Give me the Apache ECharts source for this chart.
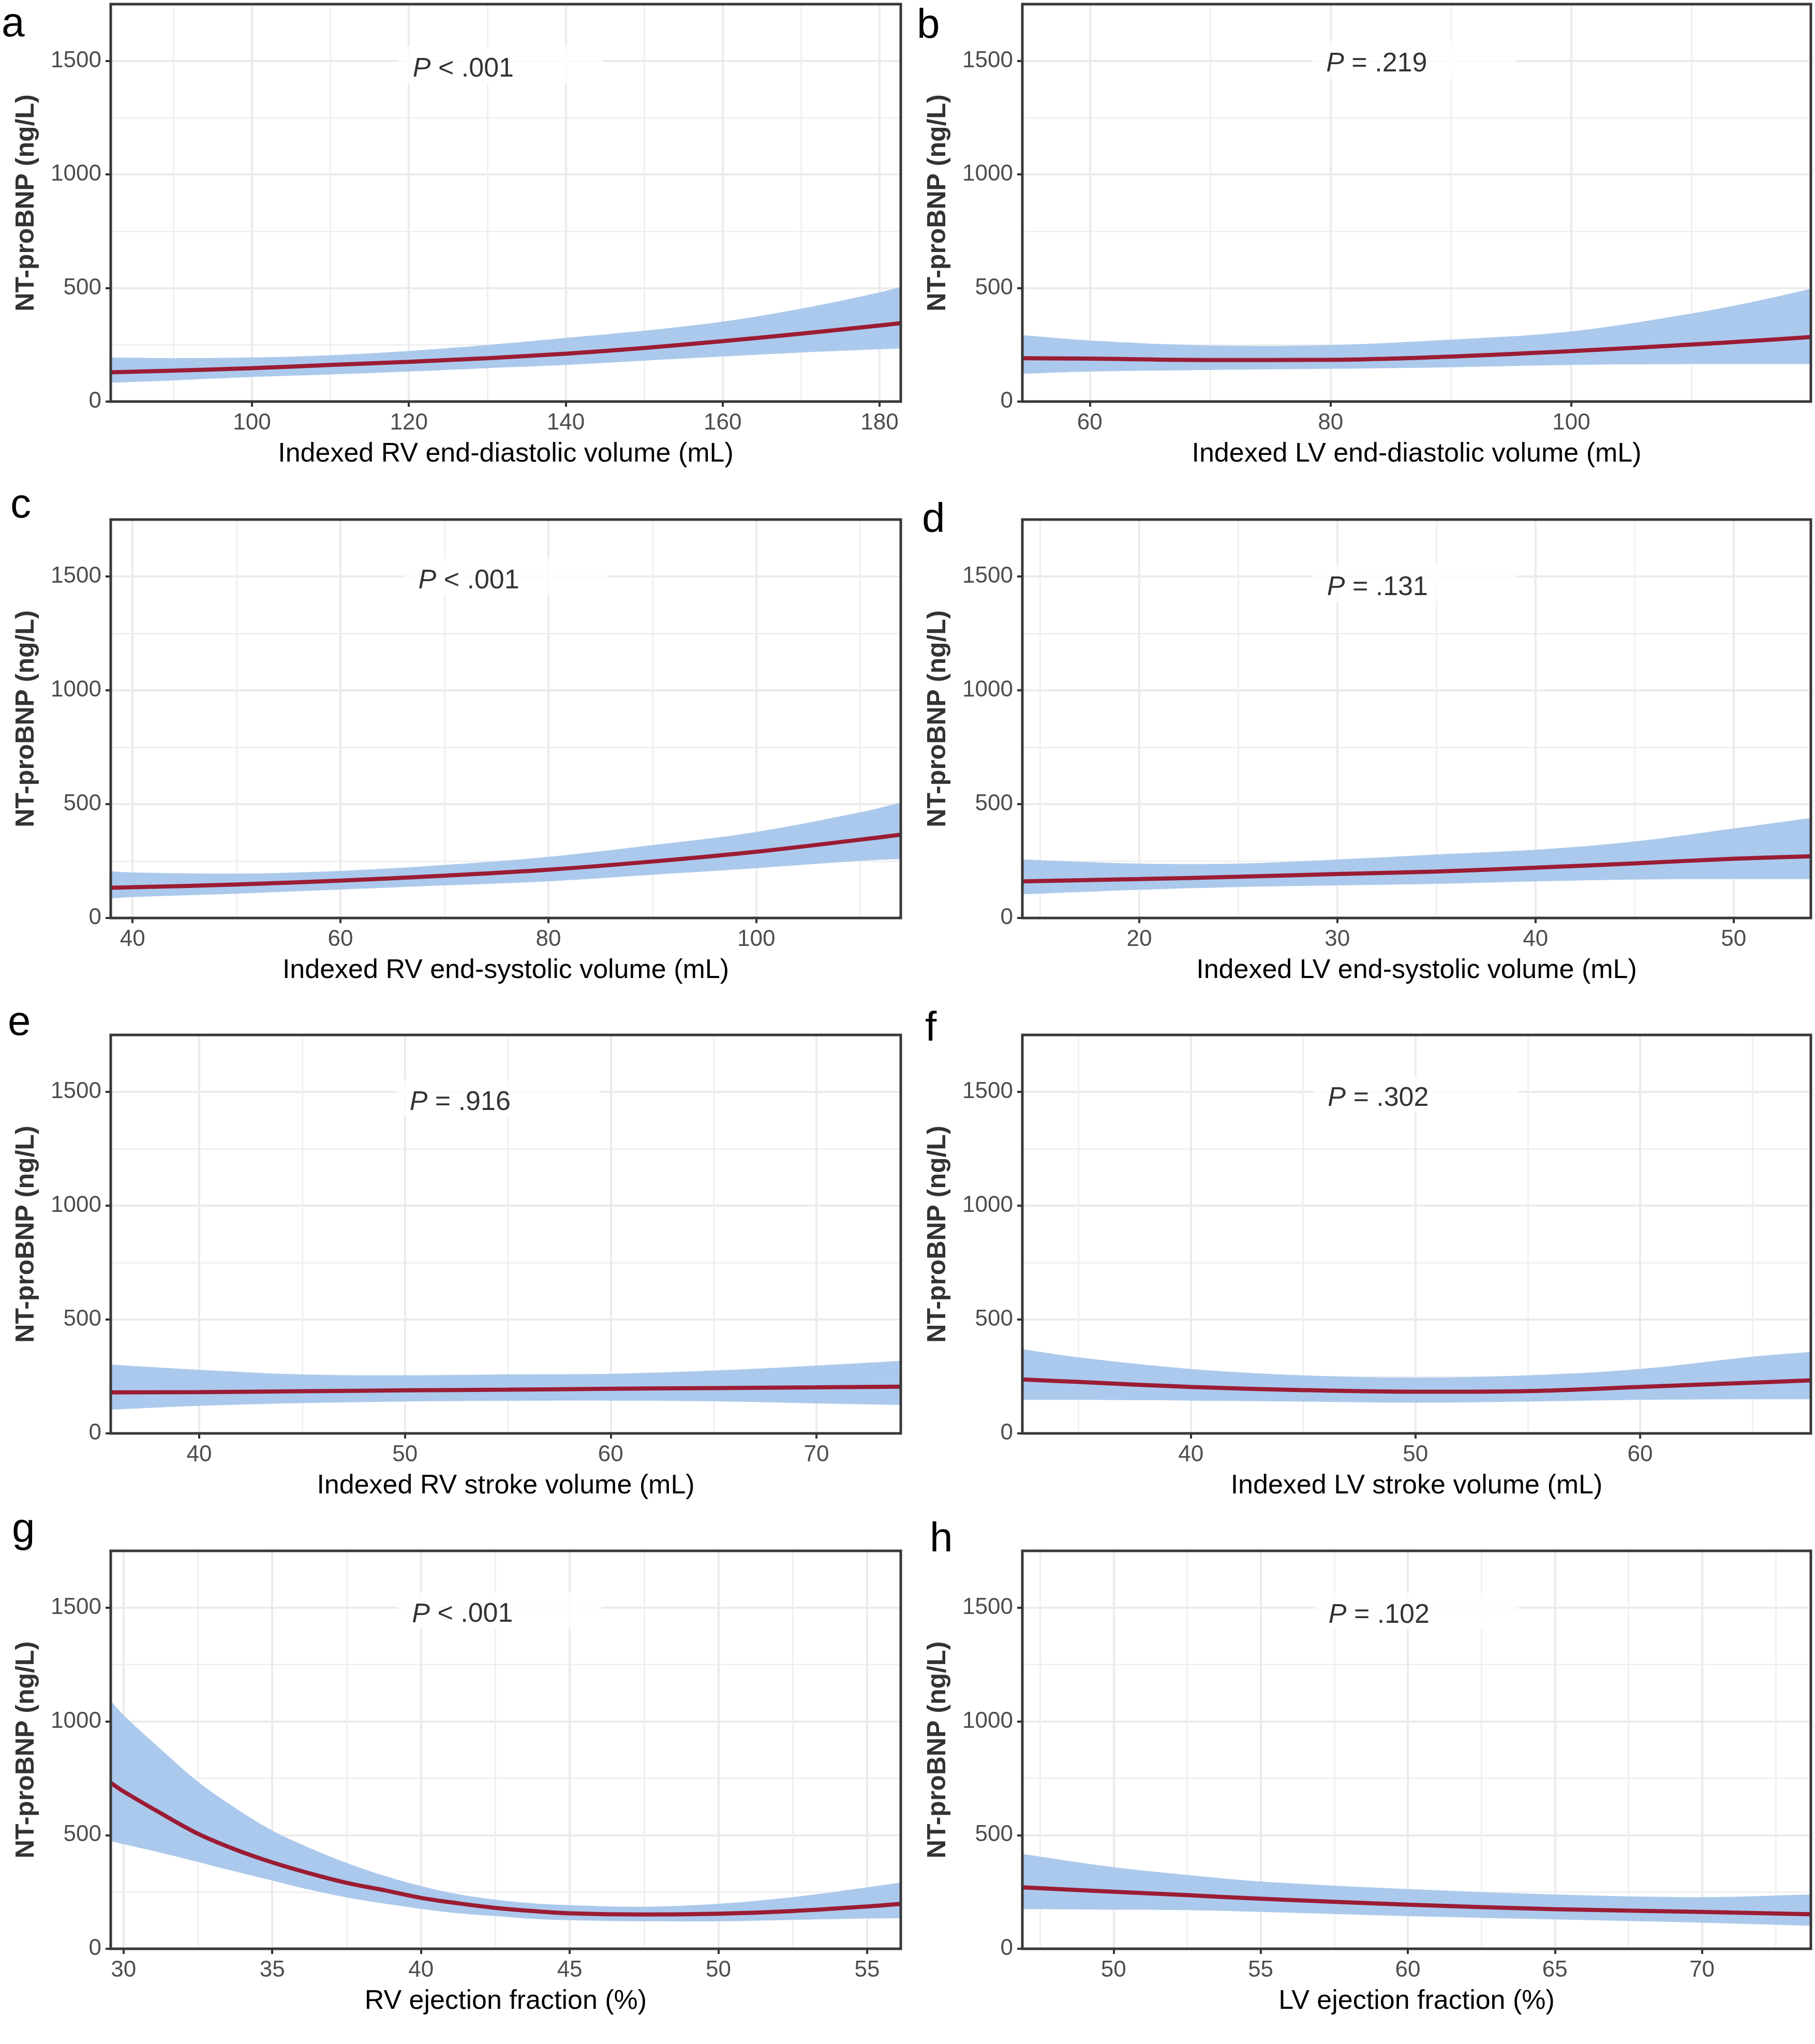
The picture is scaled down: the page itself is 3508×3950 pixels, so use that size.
<!DOCTYPE html>
<html><head><meta charset="utf-8">
<script src="https://cdn.jsdelivr.net/npm/echarts@6/dist/echarts.min.js"></script>
<style>html,body{margin:0;padding:0;background:#fff}#c{width:3508px;height:3950px}</style>
</head><body><div id="c"></div>
<script>
// ---------------- data ----------------
const yTicks = [0, 500, 1000, 1500];
const yMinorTicks = [250, 750, 1250];
const yMax = 1750;
const yTitle = 'NT-proBNP (ng/L)';

// a: RV EDV
const aX     = [82, 90, 100, 110, 120, 130, 140, 150, 160, 170, 180, 182.7];
const aFit   = [129, 136, 147, 161, 175, 191, 211, 236, 266, 299, 335, 345];
const aUpper = [194, 191, 194, 204, 223, 249, 280, 312, 352, 409, 481, 506];
const aLower = [83, 93, 108, 119, 132, 147, 161, 180, 198, 216, 230, 234];
const aTicks = [100, 120, 140, 160, 180];
const aMinor = [90, 110, 130, 150, 170];

// b: LV EDV
const bX     = [54.4, 60, 70, 80, 90, 100, 110, 115, 119.9];
const bFit   = [191, 189, 183, 184, 198, 222, 251, 267, 284];
const bUpper = [292, 269, 247, 249, 273, 309, 388, 438, 496];
const bLower = [122, 132, 139, 144, 151, 161, 165, 165, 165];
const bTicks = [60, 80, 100];
const bMinor = [70, 90, 110];

// c: RV ESV
const cX     = [37.9, 40, 50, 60, 70, 80, 90, 100, 110, 113.9];
const cFit   = [133, 135, 147, 164, 186, 212, 248, 291, 344, 366];
const cUpper = [205, 200, 195, 207, 233, 269, 320, 378, 464, 507];
const cLower = [86, 92, 107, 125, 143, 161, 190, 219, 251, 259];
const cTicks = [40, 60, 80, 100];
const cMinor = [50, 70, 90, 110];

// d: LV ESV
const dX     = [14.1, 20, 25, 30, 35, 40, 45, 50, 53.9];
const dFit   = [161, 171, 181, 193, 204, 221, 240, 260, 271];
const dUpper = [257, 239, 239, 257, 279, 300, 336, 393, 439];
const dLower = [104, 124, 136, 143, 150, 161, 169, 171, 171];
const dTicks = [20, 30, 40, 50];
const dMinor = [15, 25, 35, 45];

// e: RV SV
const eX     = [35.7, 40, 45, 50, 55, 60, 65, 70, 74.1];
const eFit   = [180, 181, 185, 189, 192, 196, 199, 202, 205];
const eUpper = [302, 279, 259, 255, 259, 262, 276, 298, 319];
const eLower = [104, 121, 133, 140, 143, 144, 141, 132, 125];
const eTicks = [40, 50, 60, 70];
const eMinor = [45, 55, 65];

// f: LV SV
const fX     = [32.5, 35, 40, 45, 50, 55, 60, 65, 67.6];
const fFit   = [237, 226, 204, 190, 183, 186, 204, 223, 233];
const fUpper = [370, 334, 283, 255, 245, 255, 283, 337, 358];
const fLower = [147, 147, 144, 140, 135, 140, 147, 150, 150];
const fTicks = [40, 50, 60];
const fMinor = [35, 45, 55, 65];

// g: RV EF
const gX     = [29.57, 30, 31.2, 32.5, 33.75, 35, 36.25, 37.5, 38.75, 40, 41.25, 42.5, 43.75, 45, 47.5, 50, 52.5, 55, 56.13];
const gFit   = [730, 692, 600, 506, 437, 380, 332, 290, 258, 224, 200, 180, 166, 156, 151, 154, 166, 186, 198];
const gUpper = [1090, 1028, 884, 735, 620, 520, 444, 378, 322, 276, 240, 216, 200, 192, 185, 198, 227, 270, 292];
const gLower = [474, 460, 424, 382, 340, 300, 260, 226, 199, 176, 156, 144, 132, 126, 121, 121, 127, 133, 134];
const gTicks = [30, 35, 40, 45, 50, 55];
const gMinor = [32.5, 37.5, 42.5, 47.5, 52.5];

// h: LV EF
const hX     = [46.9, 50, 52.5, 55, 60, 65, 70, 73.7];
const hFit   = [270, 251, 236, 220, 194, 174, 162, 152];
const hUpper = [417, 359, 325, 296, 263, 239, 227, 239];
const hLower = [174, 172, 170, 162, 144, 129, 115, 101];
const hTicks = [50, 55, 60, 65, 70];
const hMinor = [47.5, 52.5, 57.5, 62.5, 67.5, 72.5];

const letters = ['a', 'b', 'c', 'd', 'e', 'f', 'g', 'h'];
const xTitles = [
  'Indexed RV end-diastolic volume (mL)', 'Indexed LV end-diastolic volume (mL)',
  'Indexed RV end-systolic volume (mL)', 'Indexed LV end-systolic volume (mL)',
  'Indexed RV stroke volume (mL)', 'Indexed LV stroke volume (mL)',
  'RV ejection fraction (%)', 'LV ejection fraction (%)'
];
const pTexts = [' < .001', ' = .219', ' < .001', ' = .131', ' = .916', ' = .302', ' < .001', ' = .102'];

// ---------------- layout (pixels) ----------------
const colLeft = [214, 1976];
const colWidth = [1527, 1524];
const rowTop = [8, 1004, 2000, 2997];
const rowHeight = [768, 770, 770, 769];
const letterPos = [[3, 8], [1772, 11], [20, 938], [1782, 966], [15, 1938], [1788, 1949], [23, 2917], [1797, 2936]];
const pTextFrac = [0.382, 0.385, 0.389, 0.386, 0.378, 0.387, 0.381, 0.388];
const pTextY = [1463, 1486, 1481, 1451, 1454, 1472, 1470, 1467];

const FONT = "'Liberation Sans', Arial, Helvetica, sans-serif";
const BAND = '#abc9ec';
const LINE = '#9b1c34';
const S = 0.35;

const panels = [
  [aX, aFit, aUpper, aLower, aTicks, aMinor],
  [bX, bFit, bUpper, bLower, bTicks, bMinor],
  [cX, cFit, cUpper, cLower, cTicks, cMinor],
  [dX, dFit, dUpper, dLower, dTicks, dMinor],
  [eX, eFit, eUpper, eLower, eTicks, eMinor],
  [fX, fFit, fUpper, fLower, fTicks, fMinor],
  [gX, gFit, gUpper, gLower, gTicks, gMinor],
  [hX, hFit, hUpper, hLower, hTicks, hMinor]
];

function ctrl(p, i, dir) {
  const prev = p[Math.max(i - 1, 0)], cur = p[i], next = p[Math.min(i + 1, p.length - 1)];
  const vx = next[0] - prev[0], vy = next[1] - prev[1];
  const d0 = Math.hypot(cur[0] - prev[0], cur[1] - prev[1]);
  const d1 = Math.hypot(next[0] - cur[0], next[1] - cur[1]);
  const sum = (d0 + d1) || 1;
  if (dir > 0) return [cur[0] + vx * S * d1 / sum, cur[1] + vy * S * d1 / sum];
  return [cur[0] - vx * S * d0 / sum, cur[1] - vy * S * d0 / sum];
}
function smoothSeg(p) {
  let d = '';
  for (let i = 0; i < p.length - 1; i++) {
    const c1 = ctrl(p, i, 1), c2 = ctrl(p, i + 1, -1);
    d += ' C' + c1[0] + ' ' + c1[1] + ' ' + c2[0] + ' ' + c2[1] + ' ' + p[i + 1][0] + ' ' + p[i + 1][1];
  }
  return d;
}
function bandRenderer(xs, lo, hi) {
  return function (params, api) {
    if (params.dataIndex !== 0) return null;
    const up = xs.map((x, i) => api.coord([x, hi[i]]));
    const dn = xs.map((x, i) => api.coord([x, lo[i]])).reverse();
    const d = 'M' + up[0][0] + ' ' + up[0][1] + smoothSeg(up) +
      ' L' + dn[0][0] + ' ' + dn[0][1] + smoothSeg(dn) + ' Z';
    return { type: 'path', shape: { pathData: d }, style: { fill: BAND, stroke: null } };
  };
}

const grid = [], xAxis = [], yAxis = [], series = [], graphic = [];
panels.forEach((pn, i) => {
  const [xs, fit, hi, lo, ticks, minor] = pn;
  const col = i % 2, row = Math.floor(i / 2);
  const xmin = xs[0], xmax = xs[xs.length - 1];
  grid.push({
    left: colLeft[col], top: rowTop[row], width: colWidth[col], height: rowHeight[row],
    show: true, borderColor: '#383838', borderWidth: 5, backgroundColor: 'transparent',
    z: 10, containLabel: false, outerBoundsMode: 'none'
  });
  xAxis.push({
    gridIndex: i, type: 'value', min: xmin, max: xmax, position: 'bottom',
    name: xTitles[i], nameLocation: 'middle', nameGap: 76, nameMoveOverlap: false,
    nameTextStyle: { fontSize: 52, color: '#000', fontFamily: FONT },
    axisLine: { show: false },
    axisTick: { show: true, length: 10, customValues: ticks, lineStyle: { color: '#333', width: 4 } },
    axisLabel: { customValues: ticks, margin: 20, fontSize: 44, color: '#4d4d4d', fontFamily: FONT,
      hideOverlap: false, formatter: v => String(v) },
    splitLine: { show: true, lineStyle: { color: '#ebebeb', width: 4 } }
  });
  xAxis.push({
    gridIndex: i, type: 'value', min: xmin, max: xmax, position: 'top',
    axisLine: { show: false },
    axisTick: { show: false, customValues: minor },
    axisLabel: { show: false, customValues: minor },
    splitLine: { show: true, lineStyle: { color: '#f0f0f0', width: 3 } }
  });
  yAxis.push({
    gridIndex: i, type: 'value', min: 0, max: yMax, position: 'left',
    name: yTitle, nameLocation: 'middle', nameGap: 138, nameRotate: 90, nameMoveOverlap: false,
    nameTextStyle: { fontSize: 50, fontWeight: 'bold', color: '#333', fontFamily: FONT },
    axisLine: { show: false },
    axisTick: { show: true, length: 10, customValues: yTicks, lineStyle: { color: '#333', width: 4 } },
    axisLabel: { customValues: yTicks, margin: 18, fontSize: 44, color: '#4d4d4d', fontFamily: FONT,
      hideOverlap: false, formatter: v => String(v) },
    splitLine: { show: true, lineStyle: { color: '#ebebeb', width: 4 } }
  });
  yAxis.push({
    gridIndex: i, type: 'value', min: 0, max: yMax, position: 'right',
    axisLine: { show: false },
    axisTick: { show: false, customValues: yMinorTicks },
    axisLabel: { show: false, customValues: yMinorTicks },
    splitLine: { show: true, lineStyle: { color: '#f0f0f0', width: 3 } }
  });
  series.push({
    type: 'custom', xAxisIndex: 2 * i, yAxisIndex: 2 * i, clip: true, z: 2, silent: true,
    data: xs.map((x, k) => [x, lo[k], hi[k]]),
    encode: { x: 0, y: [1, 2] },
    renderItem: bandRenderer(xs, lo, hi)
  });
  series.push({
    type: 'line', xAxisIndex: 2 * i, yAxisIndex: 2 * i, z: 3, silent: true,
    data: xs.map((x, k) => [x, fit[k]]), smooth: S, symbol: 'none',
    lineStyle: { color: LINE, width: 8 }
  });
  const boxPadL = 28;
  const frac = pTextFrac[i] - boxPadL / colWidth[col];
  const unitsPerPx = yMax / rowHeight[row];
  series.push({
    type: 'scatter', xAxisIndex: 2 * i, yAxisIndex: 2 * i, z: 4, silent: true,
    symbolSize: 1, itemStyle: { color: 'rgba(0,0,0,0)' },
    data: [[xmin + frac * (xmax - xmin), pTextY[i] + 8 * unitsPerPx]],
    label: {
      show: true, position: 'right', distance: 0,
      formatter: '{i|P}{r|' + pTexts[i] + '}',
      backgroundColor: '#fff', padding: [18, 172, 2, boxPadL],
      rich: {
        i: { fontSize: 52, fontStyle: 'italic', color: '#000', fontFamily: FONT },
        r: { fontSize: 52, color: '#000', fontFamily: FONT }
      }
    }
  });
  graphic.push({
    type: 'text', left: letterPos[i][0], top: letterPos[i][1], z: 20,
    style: { text: letters[i], fontSize: 80, fill: '#000', font: '80px ' + FONT }
  });
});

const chart = echarts.init(document.getElementById('c'), null, { renderer: 'canvas' });
chart.setOption({
  animation: false,
  backgroundColor: '#fff',
  grid, xAxis, yAxis, series, graphic
});
</script>
</body></html>
